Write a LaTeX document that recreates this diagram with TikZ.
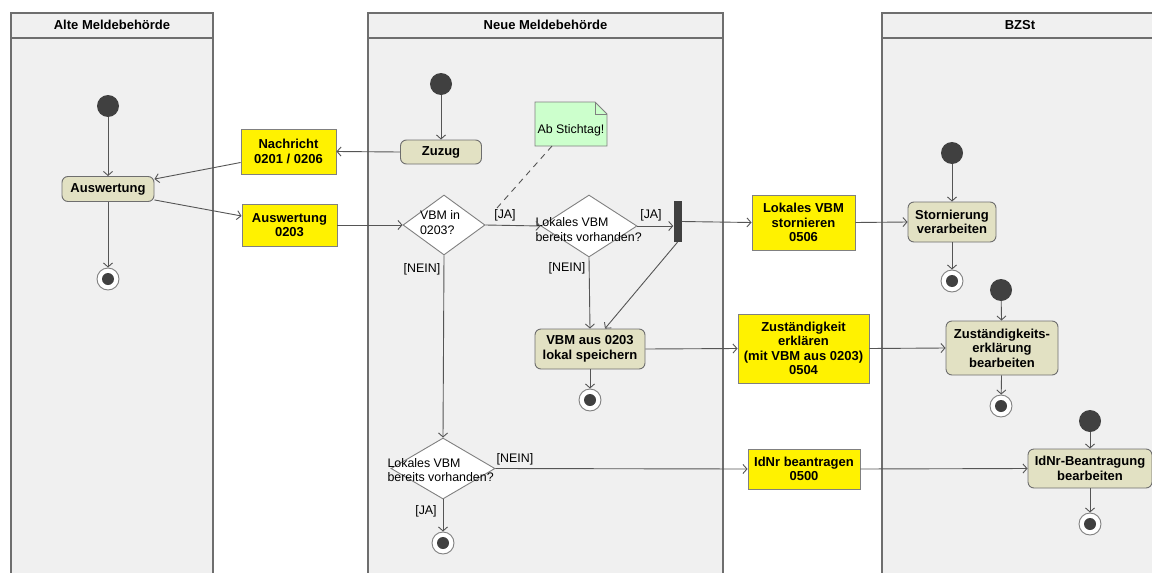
\documentclass[tikz,border=0pt]{standalone}
\usepackage{fontspec}
\setmainfont{Liberation Sans}
\usetikzlibrary{arrows.meta,shapes.geometric}

\definecolor{lanefill}{HTML}{F0F0F0}
\definecolor{lanedraw}{HTML}{6E6E6E}
\definecolor{actfill}{HTML}{E2E1C3}
\definecolor{notefill}{HTML}{CCFFCC}
\definecolor{dotfill}{HTML}{404040}
\definecolor{flowline}{HTML}{555555}

\begin{document}
\begin{tikzpicture}[x=1pt,y=-1pt,
  lane/.style={draw=lanedraw,line width=1.8pt,fill=lanefill},
  bold/.style={font=\fontsize{13}{14.5}\selectfont\bfseries},
  plain/.style={font=\fontsize{12.4}{14.5}\selectfont},
  action/.style={bold,draw=lanedraw,line width=0.9pt,fill=actfill,rounded corners=6pt,align=center,inner sep=0pt},
  msg/.style={bold,draw=gray,line width=0.9pt,fill=yellow,align=center,inner sep=0pt},
  decision/.style={diamond,draw=gray,line width=0.9pt,fill=white,inner sep=0pt},
  startdot/.style={circle,fill=dotfill,minimum size=22pt,inner sep=0pt},
  enddot/.style={circle,draw=gray,line width=0.9pt,fill=white,minimum size=22pt,inner sep=0pt,
    path picture={\fill[dotfill] (path picture bounding box.center) circle (6pt);}},
  flow/.style={draw=flowline,line width=0.9pt,-{Straight Barb[length=4pt,width=9pt]}}]
  \useasboundingbox[fill=white] (0,0) rectangle (1152,573);

  % swimlanes
  \foreach \l/\r/\t/\n in {11/213/Alte Meldebehörde/alt, 368/723/Neue Meldebehörde/neu, 882/1158/BZSt/bzst}{
    \draw[lane] (\l,13) rectangle (\r,590);
    \draw[lane] (\l,38) -- (\r,38);
    \node[bold] (\n) at ({(\l+\r)/2},25) {\t};
  }

  % Alte Meldebehoerde
  \node[startdot] (s1) at (108,106) {};
  \node[action,minimum width=92pt,minimum height=25pt] (ausw) at (108,189) {Auswertung};
  \node[enddot] (e1) at (108,279) {};

  % Nachrichten zwischen den Behoerden
  \node[msg,minimum width=95pt,minimum height=45pt] (nachr) at (288.5,151.5) {Nachricht\\0201 / 0206};
  \node[msg,minimum width=95pt,minimum height=42pt] (a0203) at (289.5,225) {Auswertung\\0203};
  \node[msg,minimum width=103pt,minimum height=55pt] (storn) at (803.5,222.5) {Lokales VBM\\stornieren\\0506};
  \node[msg,minimum width=131pt,minimum height=69pt] (zust) at (803.5,348.5) {Zuständigkeit\\erklären\\(mit VBM aus 0203)\\0504};
  \node[msg,minimum width=112pt,minimum height=40pt] (idnr) at (804,469) {IdNr beantragen\\0500};

  % Neue Meldebehoerde
  \node[startdot] (s2) at (441,84) {};
  \node[action,minimum width=81pt,minimum height=24pt] (zuzug) at (441,152) {Zuzug};
  \node[decision,minimum width=82pt,minimum height=60pt] (d1) at (444,225) {};
  \node[decision,minimum width=96pt,minimum height=62pt] (d2) at (589,226) {};
  \node[decision,minimum width=104pt,minimum height=61pt] (d3) at (443,468.5) {};
  \node[plain,align=left] (d1t) at (440,222.5) {VBM in\\0203?};
  \node[plain,align=left,anchor=west] (d2t) at (532,229.5) {Lokales VBM\\bereits vorhanden?};
  \node[plain,align=left,anchor=west] (d3t) at (384,470) {Lokales VBM\\bereits vorhanden?};
  \node[rectangle,fill=dotfill,minimum width=8pt,minimum height=41pt,inner sep=0pt] (bar) at (677.5,221.5) {};
  \node[action,minimum width=110pt,minimum height=40pt] (lokal) at (590,349) {VBM aus 0203\\lokal speichern};
  \node[enddot] (e2) at (590,400) {};
  \node[enddot] (e3) at (443,543) {};

  % Notiz
  \coordinate (nt) at (535,102);
  \filldraw[draw=gray,line width=0.9pt,fill=notefill] (nt) -- ++(60,0) -- ++(12,12) -- ++(0,32) -- ++(-72,0) -- cycle;
  \draw[gray,line width=0.9pt] (nt) ++(60,0) -- ++(0,12) -- ++(12,0);
  \node[plain] (note) at (571,130) {Ab Stichtag!};
  \coordinate (nstart) at (552,146);
  \coordinate (nend) at (497,208);

  % BZSt
  \node[startdot] (s3) at (952,153) {};
  \node[action,minimum width=88pt,minimum height=40pt] (stv) at (952,222) {Stornierung\\verarbeiten};
  \node[enddot] (e4) at (952,281) {};
  \node[startdot] (s4) at (1001,290) {};
  \node[action,minimum width=112pt,minimum height=54pt] (zeb) at (1002,348) {Zuständigkeits-\\erklärung\\bearbeiten};
  \node[enddot] (e5) at (1001,406) {};
  \node[startdot] (s5) at (1090,421) {};
  \node[action,minimum width=124pt,minimum height=39pt] (ibb) at (1090,468.5) {IdNr-Beantragung\\bearbeiten};
  \node[enddot] (e6) at (1090,524) {};

  % Waechter
  \foreach \n/\p/\t in {ja1/{(505,215)}/[JA], ja2/{(651,215)}/[JA], ja3/{(426,511)}/[JA],
    nein1/{(422,269)}/[NEIN], nein2/{(567,268)}/[NEIN], nein3/{(515,459)}/[NEIN]}
    \node[plain] (\n) at \p {\t};

  % Kontrollfluss
  \draw[flow] (s1) -- (ausw);
  \draw[flow] (ausw) -- (e1);
  \draw[flow] (s2) -- (zuzug);
  \draw[flow] (zuzug.west) -- (nachr.east);
  \draw[flow] ([yshift=-11pt]nachr.west) -- ([yshift=-3pt]ausw.north east);
  \draw[flow] ([yshift=2pt]ausw.south east) -- ([yshift=9pt]a0203.west);
  \draw[flow] (a0203.east) -- (d1.west);
  \draw[flow] (d1.east) -- (d2.west);
  \draw[flow] (d2.east) -- (d2.east -| bar.west);
  \draw[flow] (bar.east) -- (storn.west);
  \draw[flow] (storn.east) -- (stv.west);
  \draw[flow] (bar.south) -- ([xshift=15pt]lokal.north);
  \draw[flow] (d2.south) -- (lokal.north);
  \draw[flow] (lokal) -- (e2);
  \draw[flow] (lokal.east) -- (zust.west);
  \draw[flow] (zust.east) -- (zeb.west);
  \draw[flow] (d1.south) -- (d3.north);
  \draw[flow] (d3.east) -- (idnr.west);
  \draw[flow] (idnr.east) -- (ibb.west);
  \draw[flow] (d3.south) -- (e3);
  \draw[flow] (s3) -- (stv);
  \draw[flow] (stv) -- (e4);
  \draw[flow] (s4) -- (zeb);
  \draw[flow] (zeb) -- (e5);
  \draw[flow] (s5) -- (ibb);
  \draw[flow] (ibb) -- (e6);
  \draw[flowline,line width=0.9pt,dash pattern=on 6pt off 5pt] (nstart) -- (nend);
\end{tikzpicture}
\end{document}
